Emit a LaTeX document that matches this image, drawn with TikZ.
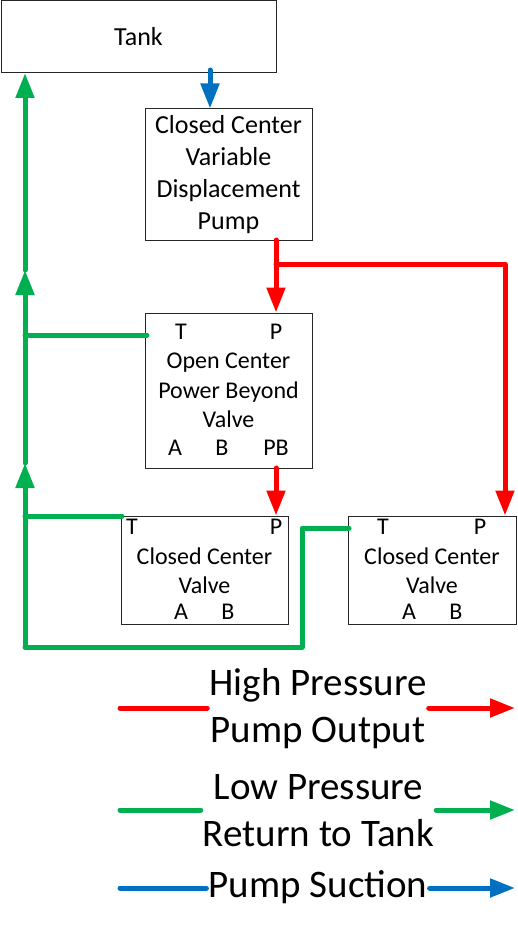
\documentclass[tikz,border=0pt]{standalone}
\usepackage{fontspec}
\setmainfont{Carlito}
\usetikzlibrary{arrows.meta}
\definecolor{hpred}{HTML}{FF0000}
\definecolor{lpgreen}{HTML}{00B050}
\definecolor{sucblue}{HTML}{0070C0}
\begin{document}
\begin{tikzpicture}[x=1pt,y=-1pt,
  box/.style={draw=black!85, line width=1pt, fill=white, inner sep=0pt, align=center},
  bigtxt/.style={font=\fontsize{26}{32}\selectfont},
  midtxt/.style={font=\fontsize{24}{29.5}\selectfont, inner sep=0pt, align=center},
  legtxt/.style={font=\fontsize{39}{47}\selectfont, inner xsep=2pt, inner ysep=0pt, align=center},
  tip/.style={-{Triangle[length=25pt,width=18pt]}},
  hpline/.style={draw=hpred, line width=5pt, line cap=round, line join=round},
  lpline/.style={draw=lpgreen, line width=5pt, line cap=round, line join=round},
  sucline/.style={draw=sucblue, line width=5pt, line cap=round, line join=round}]
\useasboundingbox (0,0) rectangle (518,931);

% boxes
\node[box, bigtxt, minimum width=275pt, minimum height=72pt] (tank) at (138.5,37) {Tank};
\node[box, bigtxt, minimum width=167pt, minimum height=131pt] (pump) at (228.5,174.5)
  {Closed Center\\Variable\\Displacement\\Pump};
\node[box, minimum width=167pt, minimum height=155pt] (ocpb) at (228.5,390.5) {};
\node[midtxt] (ocpbtxt) at (228.5,390.5) {Open Center\\Power Beyond\\Valve};
\node[midtxt] (ocpbT) at (181,332) {T};
\node[midtxt] (ocpbP) at (276,332) {P};
\node[midtxt] (ocpbA) at (175,448) {A};
\node[midtxt] (ocpbB) at (222,448) {B};
\node[midtxt] (ocpbPB) at (276,448) {PB};

\node[box, minimum width=167pt, minimum height=108pt] (cca) at (204.5,570) {};
\node[midtxt] (ccatxt) at (204.5,570.5) {Closed Center\\Valve};
\node[midtxt] (ccaT) at (132,527) {T};
\node[midtxt] (ccaP) at (276,527) {P};
\node[midtxt] (ccaA) at (181,612) {A};
\node[midtxt] (ccaB) at (228,612) {B};

\node[box, minimum width=168pt, minimum height=108pt] (ccb) at (432,570) {};
\node[midtxt] (ccbtxt) at (432,570.5) {Closed Center\\Valve};
\node[midtxt] (ccbT) at (383,527) {T};
\node[midtxt] (ccbP) at (480,527) {P};
\node[midtxt] (ccbA) at (409,612) {A};
\node[midtxt] (ccbB) at (456,612) {B};

% suction
\coordinate (sucs) at (210,70);
\draw[sucline, tip] (sucs) -- (sucs |- pump.north);

% high pressure
\coordinate (hpa) at (276,240);
\coordinate (hpb) at (276,264);
\coordinate (hpc) at (505,264);
\coordinate (pbout) at (276,468);
\draw[hpline, tip] (hpa) -- (hpa |- ocpb.north);
\draw[hpline, tip] (hpb) -- (hpc) -- (hpc |- ccb.north);
\draw[hpline, tip] (pbout) -- (pbout |- cca.north);

% low pressure return
\coordinate (g0) at (25,647);
\coordinate (g1) at (25,463);
\coordinate (g2) at (25,270);
\coordinate (gt) at (25,73);
\coordinate (ocT) at (147,335);
\coordinate (caT) at (122,516);
\coordinate (cbT) at (349,528);
\coordinate (jog) at (302,528);
\draw[lpline, tip] (g0) -- (g1);
\draw[lpline, tip] (g1) -- (g2);
\draw[lpline, tip] (g2) -- (gt);
\draw[lpline] (g0 |- ocT) -- (ocT);
\draw[lpline] (g0 |- caT) -- (caT);
\draw[lpline] (cbT) -- (jog) -- (jog |- g0) -- (g0);

% legend
\node[legtxt] (lhp) at (318,708.5) {High Pressure\\Pump Output};
\node[legtxt] (llp) at (318.5,810.5) {Low Pressure\\Return to Tank};
\node[legtxt] (lsuc) at (318,887) {Pump Suction};
\coordinate (lhps) at (120,708);
\coordinate (lhpe) at (515,708);
\coordinate (llps) at (120,810);
\coordinate (llpe) at (515,810);
\coordinate (lsucs) at (120,888);
\coordinate (lsuce) at (515,888);
\draw[hpline] (lhps) -- (lhp.west |- lhps);
\draw[hpline, tip] (lhp.east |- lhps) -- (lhpe);
\draw[lpline] (llps) -- (llp.west |- llps);
\draw[lpline, tip] (llp.east |- llps) -- (llpe);
\draw[sucline] (lsucs) -- (lsuc.west |- lsucs);
\draw[sucline, tip] (lsuc.east |- lsucs) -- (lsuce);
\end{tikzpicture}
\end{document}
